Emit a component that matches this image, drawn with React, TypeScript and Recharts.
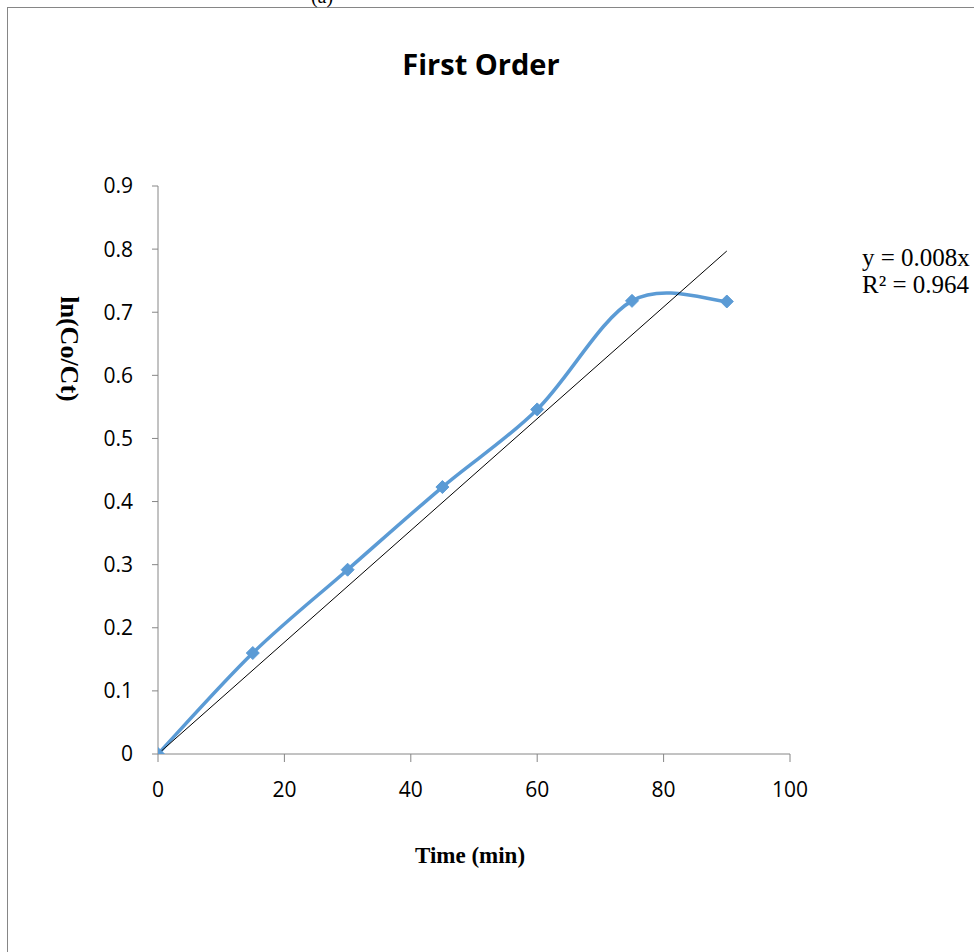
import React from 'react';
import { ComposedChart, Line, XAxis, YAxis } from 'recharts';

// measured points (time in min, ln(Co/Ct))
const timeMin = [0, 15, 30, 45, 60, 75, 90];
const lnRatio = [0, 0.16, 0.292, 0.423, 0.546, 0.718, 0.717];

// linear trendline endpoints
const trendX = [0, 90];
const trendY = [0, 0.797];

const xTicks = [0, 20, 40, 60, 80, 100];
const yTicks = [0, 0.1, 0.2, 0.3, 0.4, 0.5, 0.6, 0.7, 0.8, 0.9];
const yTickLabels = ['0', '0.1', '0.2', '0.3', '0.4', '0.5', '0.6', '0.7', '0.8', '0.9'];

const data = timeMin.map((x, i) => ({ x, y: lnRatio[i] }));
const trend = trendX.map((x, i) => ({ x, t: trendY[i] }));

const BLUE = '#5B9BD5';
const GREY = '#868686';
const SERIF = 'Liberation Serif, Times New Roman, serif';
const SANS = 'Open Sans, sans-serif';

// Excel-like smoothed line (catmull-rom bezier)
const excelCurve = (context: any) => {
  let pts: [number, number][] = [];
  return {
    areaStart() {},
    areaEnd() {},
    lineStart() {
      pts = [];
    },
    point(x: number, y: number) {
      pts.push([+x, +y]);
    },
    lineEnd() {
      if (!pts.length) return;
      context.moveTo(pts[0][0], pts[0][1]);
      for (let i = 0; i < pts.length - 1; i++) {
        const p0 = pts[i - 1] || pts[i];
        const p1 = pts[i];
        const p2 = pts[i + 1];
        const p3 = pts[i + 2] || p2;
        context.bezierCurveTo(
          p1[0] + (p2[0] - p0[0]) / 6,
          p1[1] + (p2[1] - p0[1]) / 6,
          p2[0] - (p3[0] - p1[0]) / 6,
          p2[1] - (p3[1] - p1[1]) / 6,
          p2[0],
          p2[1]
        );
      }
    },
  };
};

const Diamond = (props: any) => {
  const { cx, cy } = props;
  if (cx == null || cy == null) return null;
  const r = 6.5;
  return (
    <polygon
      points={`${cx},${cy - r} ${cx + r},${cy} ${cx},${cy + r} ${cx - r},${cy}`}
      fill={BLUE}
      stroke={BLUE}
    />
  );
};

const App: React.FC = () => {
  return (
    <div style={{ position: 'absolute', left: 0, top: 0, width: 974, height: 952, overflow: 'hidden', background: '#fff' }}>
      <div
        style={{
          position: 'absolute',
          left: 7,
          top: 7,
          width: 1000,
          height: 1000,
          borderLeft: `1px solid ${GREY}`,
          borderTop: `1px solid ${GREY}`,
        }}
      />
      <svg style={{ position: 'absolute', left: 0, top: 0 }} width={974} height={952}>
        <text x={322} y={3} fontFamily={SERIF} fontSize={20} fill="#000" textAnchor="middle">
          (a)
        </text>
      </svg>
      <div style={{ position: 'absolute', left: 0, top: 0 }}>
        <ComposedChart
          width={974}
          height={952}
          data={data}
          margin={{ top: 186, right: 184, left: 98, bottom: 168 }}
        >
          <text x={481} y={67} textAnchor="middle" dominantBaseline="middle" fontFamily={SANS} fontWeight="bold" fontSize={29} fill="#000">
            First Order
          </text>
          <text
            x={67}
            y={349}
            transform="rotate(90 67 349)"
            textAnchor="middle"
            dominantBaseline="middle"
            fontFamily={SERIF}
            fontWeight="bold"
            fontSize={26}
            fill="#000"
          >
            ln(Co/Ct)
          </text>
          <text x={470} y={858} textAnchor="middle" dominantBaseline="middle" fontFamily={SERIF} fontWeight="bold" fontSize={23} fill="#000">
            Time (min)
          </text>
          <text x={862} y={266} fontFamily={SERIF} fontSize={25} fill="#000">
            y = 0.008x
          </text>
          <text x={862} y={293} fontFamily={SERIF} fontSize={25} fill="#000">
            R² = 0.964
          </text>
          <XAxis
            dataKey="x"
            type="number"
            domain={[0, 100]}
            ticks={xTicks}
            allowDataOverflow
            height={30}
            axisLine={{ stroke: GREY, strokeWidth: 1 }}
            tickLine={{ stroke: GREY }}
            tickSize={8}
            tickMargin={20}
            tick={{ fill: '#000', fontSize: 21, fontFamily: SANS }}
          />
          <YAxis
            type="number"
            domain={[0, 0.9]}
            ticks={yTicks}
            allowDataOverflow
            width={60}
            axisLine={{ stroke: GREY, strokeWidth: 1 }}
            tickLine={{ stroke: GREY }}
            tickSize={6}
            tickMargin={19}
            tickFormatter={(v: number) => yTickLabels[yTicks.indexOf(v)] ?? String(v)}
            tick={{ fill: '#000', fontSize: 21, fontFamily: SANS }}
          />
          <Line
            dataKey="y"
            type={excelCurve as any}
            stroke={BLUE}
            strokeWidth={3.5}
            dot={<Diamond />}
            activeDot={false}
            isAnimationActive={false}
          />
          <Line
            data={trend}
            dataKey="t"
            type="linear"
            stroke="#000"
            strokeWidth={1}
            dot={false}
            activeDot={false}
            isAnimationActive={false}
          />
        </ComposedChart>
      </div>
    </div>
  );
};

export default App;
